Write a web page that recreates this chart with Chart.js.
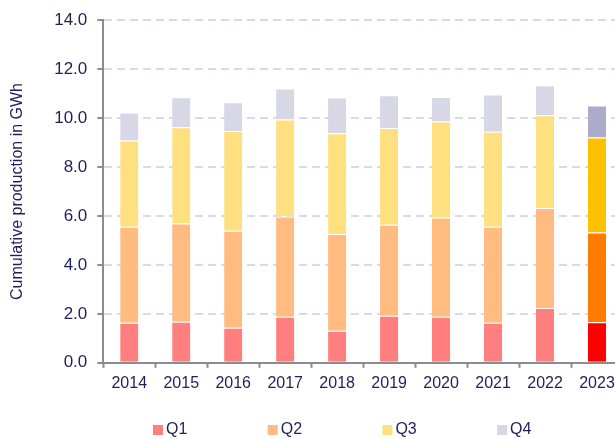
<!DOCTYPE html>
<html>
<head>
<meta charset="utf-8">
<script src="https://cdn.jsdelivr.net/npm/chart.js@4/dist/chart.umd.min.js"></script>
<style>
  html, body { margin: 0; padding: 0; background: #fff; overflow: hidden; width: 615px; height: 439px; }
  canvas { display: block; }
</style>
</head>
<body>
<canvas id="prodChart" width="689" height="439" style="width:689px;height:439px"></canvas>
<script>
//my data - production per quarter (GWh), stacked into cumulative bars
const years = ['2014', '2015', '2016', '2017', '2018', '2019', '2020', '2021', '2022', '2023']
const q1 = [1.64, 1.68, 1.43, 1.88, 1.31, 1.92, 1.88, 1.64, 2.24, 1.66]
const q2 = [3.92, 4.01, 3.97, 4.10, 3.95, 3.72, 4.06, 3.92, 4.09, 3.66]
const q3 = [3.52, 3.94, 4.07, 3.96, 4.12, 3.95, 3.92, 3.88, 3.79, 3.89]
const q4 = [1.15, 1.22, 1.18, 1.27, 1.46, 1.34, 1.00, 1.52, 1.22, 1.30]
const yTicks = [0, 2, 4, 6, 8, 10, 12, 14]

// colours: pale for past years, full for current year
const pale = ['#ff7f7f', '#ffbb80', '#ffe080', '#d8d7e6']
const full = ['#ff0000', '#ff7c00', '#ffc000', '#adabcc']

const textColor = '#1f1f5a'
const axisColor = '#8c8c8c'
const font = "'Liberation Sans', Arial, sans-serif"

function colours(i) {
    return years.map((y, k) => k === years.length - 1 ? full[i] : pale[i])
}

function makeSet(label, data, i) {
    return {
        label: label,
        data: data,
        backgroundColor: colours(i),
        borderColor: 'rgba(255,255,255,0.5)',
        borderWidth: {top: 1, left: 0, right: 0, bottom: 0},
        borderSkipped: false,
        categoryPercentage: 1.0,
        barPercentage: 0.35,
    }
}

const dataChart = {
    labels: years,
    datasets: [
        makeSet('Q1', q1, 0),
        makeSet('Q2', q2, 1),
        makeSet('Q3', q3, 2),
        makeSet('Q4', q4, 3),
    ]
}

// wide-spaced legend row under the axis (built-in legend pads vertically too)
const spacedLegend = {
    id: 'spacedLegend',
    afterDraw(chart) {
        const ctx = chart.ctx
        const sets = chart.data.datasets
        const step = 114.7
        const start = chart.width / 2 - 191.5
        const y = chart.height - 9
        ctx.save()
        ctx.font = '16px ' + font
        ctx.textBaseline = 'middle'
        ctx.textAlign = 'left'
        sets.forEach((ds, i) => {
            const x = start + i * step
            ctx.fillStyle = pale[i]
            ctx.fillRect(x, y - 5, 10, 10)
            ctx.fillStyle = textColor
            ctx.fillText(ds.label, x + 13, y)
        })
        ctx.restore()
    }
}

// config
const config = {
    type: 'bar',
    data: dataChart,
    plugins: [spacedLegend],
    options: {
        responsive: false,
        animation: false,
        layout: {
            padding: {top: 4, right: 66, bottom: 40, left: 8}
        },
        plugins: {
            tooltip: {enabled: false},
            legend: {display: false}
        },
        scales: {
            x: {
                stacked: true,
                grid: {
                    drawOnChartArea: false,
                    drawTicks: true,
                    tickLength: 5,
                    tickColor: axisColor,
                    tickWidth: 2,
                    offset: true,
                },
                border: {color: axisColor, width: 2},
                ticks: {
                    color: textColor,
                    font: {family: font, size: 16},
                    padding: 6,
                    maxRotation: 0,
                    autoSkip: false,
                }
            },
            y: {
                stacked: true,
                min: 0,
                max: 14,
                afterBuildTicks: function (axis) {
                    axis.ticks = yTicks.map(v => ({value: v}))
                },
                grid: {
                    color: (ctx) => ctx.tick && ctx.tick.value === 0 ? 'rgba(0,0,0,0)' : '#d0dcf4',
                    lineWidth: 2,
                    drawTicks: true,
                    tickLength: 6,
                    tickColor: axisColor,
                    tickWidth: 2,
                },
                border: {color: axisColor, width: 2, dash: [8, 5]},
                ticks: {
                    color: textColor,
                    font: {family: font, size: 17},
                    padding: 10,
                    callback: (v) => Number(v).toFixed(1),
                },
                title: {
                    display: true,
                    text: 'Cumulative production in GWh',
                    color: textColor,
                    font: {family: font, size: 16},
                    padding: {top: 0, bottom: 17},
                }
            }
        }
    }
}

// render
const prodChart = new Chart(
    document.getElementById('prodChart'),
    config
)
</script>
</body>
</html>
